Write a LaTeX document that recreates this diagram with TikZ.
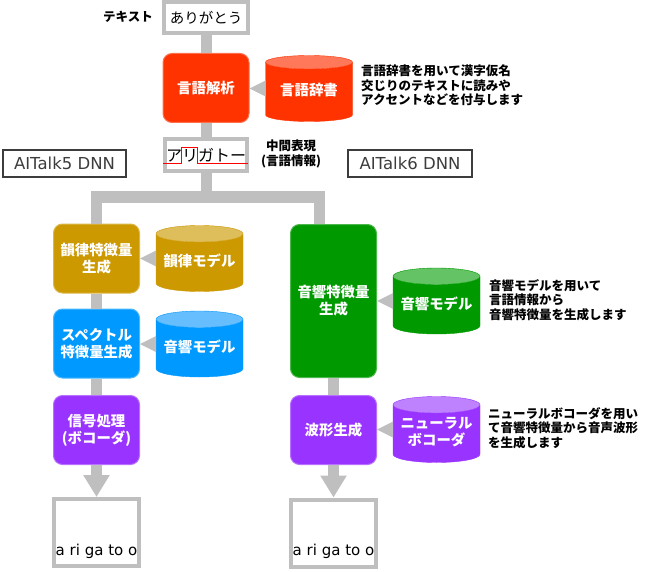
\documentclass[tikz,border=0pt]{standalone}
\usepackage{fontspec}
\setmainfont{Noto Sans CJK JP}
\newfontfamily\dvs{DejaVu Sans}
\usetikzlibrary{shapes.geometric,arrows.meta,calc}
\definecolor{linkc}{RGB}{191,191,191}
\definecolor{redb}{RGB}{255,51,0}
\definecolor{redt}{RGB}{255,120,90}
\definecolor{goldb}{RGB}{204,153,0}
\definecolor{goldt}{RGB}{222,190,90}
\definecolor{blueb}{RGB}{0,153,255}
\definecolor{bluet}{RGB}{102,190,255}
\definecolor{greenb}{RGB}{0,153,0}
\definecolor{greent}{RGB}{100,195,100}
\definecolor{purpb}{RGB}{153,51,255}
\definecolor{purpt}{RGB}{190,130,255}
\definecolor{dnnc}{RGB}{60,60,60}
\tikzset{proc/.style={draw=#1!70!white,fill=#1,line width=1pt,rounded corners=9pt,
		minimum width=86pt,minimum height=69pt,text=white,align=center,
		font=\fontsize{14.4}{17}\selectfont\bfseries},
	db/.style 2 args={cylinder,shape border rotate=90,aspect=0.21,draw=#1,
		cylinder uses custom fill,cylinder body fill=#1,cylinder end fill=#2,
		minimum width=87pt,minimum height=66pt,text=white,align=center,text depth=8pt,
		anchor=shape center,font=\fontsize{14.4}{17}\selectfont\bfseries},
	txtbox/.style={draw=linkc,line width=4pt,fill=white,inner sep=0pt},
	outbox/.style={draw=linkc,line width=4pt,minimum width=85pt,minimum height=67pt},
	outtxt/.style={font=\dvs\fontsize{15}{17}\selectfont,inner sep=0pt},
	dnn/.style={draw=dnnc,line width=1.8pt,text=dnnc,minimum width=123.5pt,
		minimum height=27.5pt,inner sep=0pt,font=\dvs\fontsize{16.5}{18}\selectfont},
	lab/.style={font=\fontsize{12.5}{14.5}\selectfont\bfseries,align=center,inner sep=0pt},
	note/.style={font=\fontsize{12.5}{14.5}\selectfont\bfseries,align=left,inner sep=0pt},
	link/.style={draw=linkc,line width=11pt},
	tri/.style={fill=linkc},
	accent/.style={draw=red,line width=1pt}}

\begin{document}
\begin{tikzpicture}[x=1pt,y=-1pt]
	\useasboundingbox (0,0) rectangle (650,572);
	\node[txtbox,minimum width=84pt,minimum height=31pt,font=\fontsize{14.5}{16}\selectfont] (in) at (206,17.5) {ありがとう};
	\node[lab] (inlab) at (128,17) {テキスト};
	\node[proc=redb] (ana) at (206,88) {言語解析};
	\node[db={redb}{redt}] (dic) at (309,88.5) {言語辞書};
	\node[note,anchor=west] (dicnote) at (361,85.5) {言語辞書を用いて漢字仮名\\交じりのテキストに読みや\\アクセントなどを付与します};
	\node[txtbox,minimum width=82pt,minimum height=32pt,font=\fontsize{16}{18}\selectfont] (mid) at (206,155) {アリガトー};
	\node[lab] (midlab) at (291,154) {中間表現\\(言語情報)};
	\node[dnn] (dnn5) at (64.5,163.5) {AITalk5 DNN};
	\node[dnn] (dnn6) at (410,163.5) {AITalk6 DNN};
	\node[proc=goldb] (pros) at (96.5,258.5) {韻律特徴量\\生成};
	\node[db={goldb}{goldt}] (pm) at (199.5,258.5) {韻律モデル};
	\node[proc=blueb] (spec) at (96.5,343.5) {スペクトル\\特徴量生成};
	\node[db={blueb}{bluet}] (am1) at (199.5,344) {音響モデル};
	\node[proc=purpb] (voc) at (96.5,430) {信号処理\\(ボコーダ)};
	\node[outbox] (out1) at (96.5,532.5) {};
	\node[outtxt,anchor=base] (wav1) at ($(out1.south)+(0,-13)$) {a ri ga to o};
	\node[proc=greenb,minimum height=153pt] (ac) at (333.5,301) {音響特徴量\\生成};
	\node[db={greenb}{greent}] (am2) at (436.5,301) {音響モデル};
	\node[note,anchor=west] (am2note) at (489,300) {音響モデルを用いて\\言語情報から\\音響特徴量を生成します};
	\node[proc=purpb] (wav) at (333.5,430) {波形生成};
	\node[db={purpb}{purpt}] (nv) at (436.5,429.5) {ニューラル\\ボコーダ};
	\node[note,anchor=west] (nvnote) at (488,428) {ニューラルボコーダを用い\\て音響特徴量から音声波形\\を生成します};
	\node[outbox] (out2) at (333.5,533) {};
	\node[outtxt,anchor=base] (wav2) at ($(out2.south)+(0,-13)$) {a ri ga to o};
	\coordinate (split) at (206,197);
	\draw[link] (in) -- (ana);
	\draw[link] (ana) -- (mid);
	\draw[link] (mid) -- (split);
	\draw[link] (pros.north) |- (split);
	\draw[link] ([xshift=-14pt]ac.north) |- (split);
	\draw[link] (pros) -- (spec);
	\draw[link] (spec) -- (voc);
	\draw[link,-{Triangle[width=25pt,length=22pt]}] (voc) -- (out1);
	\draw[link] (ac) -- (wav);
	\draw[link,-{Triangle[width=25pt,length=22pt]}] (wav) -- (out2);
	\fill[tri] (ana.east |- dic.shape center) -- ++(16,-8) -- ++(0,16) -- cycle;
	\fill[tri] (pros.east |- pm.shape center) -- ++(16,-8) -- ++(0,16) -- cycle;
	\fill[tri] (spec.east |- am1.shape center) -- ++(16,-8) -- ++(0,16) -- cycle;
	\fill[tri] (ac.east |- am2.shape center) -- ++(16,-8) -- ++(0,16) -- cycle;
	\fill[tri] (wav.east |- nv.shape center) -- ++(16,-8) -- ++(0,16) -- cycle;
	\draw[accent] ($(mid.west)+(0,9)$) -| ($(mid.west)+(18,-7)$) -| ($(mid.west)+(34,9)$) -- ($(mid.east)+(-1,9)$);
\end{tikzpicture}
\end{document}
